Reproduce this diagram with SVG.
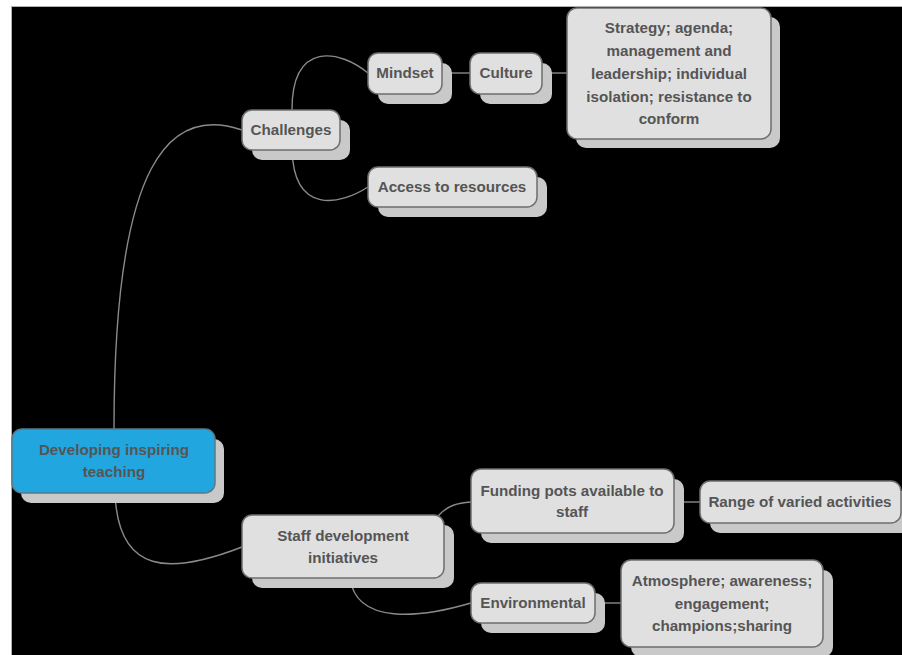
<svg xmlns="http://www.w3.org/2000/svg" width="902" height="655" viewBox="0 0 902 655">
<style>
.sh{fill:#c9c9c9}
.bx{fill:#e0e0e0;stroke:#6e6e6e;stroke-width:1.5}
.root{fill:#22a6df;stroke:#5a7a8a;stroke-width:1.5}
text{font-family:"Liberation Sans",Arial,sans-serif;font-weight:bold;font-size:15.2px;fill:#555555;text-anchor:middle}
.cn{fill:none;stroke:#8a8a8a;stroke-width:1.4}
</style>
<rect x="0" y="0" width="902" height="655" fill="#ffffff"/>
<rect x="11.5" y="6.5" width="891" height="649" fill="#000000" stroke="#b0b0b0" stroke-width="1"/>
<g id="connectors">
<path class="cn" d="M114,429 C114,160 170,105 242,130"/>
<path class="cn" d="M115,493 C118,575 170,575 242,547"/>
<path class="cn" d="M292,110 C292,40 340,50 368,73"/>
<path class="cn" d="M292,150 C294,215 340,205 368,187"/>
<path class="cn" d="M442,73 L470,73"/>
<path class="cn" d="M542,73 L567,73"/>
<path class="cn" d="M438,516 C448,505 458,503 471,502"/>
<path class="cn" d="M350,578 C356,625 420,618 471,603"/>
<path class="cn" d="M674,502 L700,502"/>
<path class="cn" d="M595,603 L621,603"/>
</g>
<g id="root">
<rect class="sh" x="21" y="439" width="203" height="64" rx="10"/>
<rect class="root" x="12" y="429" width="203" height="64" rx="10"/>
<text x="114" y="455">Developing inspiring</text>
<text x="114" y="477">teaching</text>
</g>
<g id="challenges">
<rect class="sh" x="252" y="120" width="98" height="40" rx="10"/>
<rect class="bx" x="242" y="110" width="98" height="40" rx="10"/>
<text x="291" y="135">Challenges</text>
</g>
<g id="mindset">
<rect class="sh" x="378" y="63" width="74" height="41" rx="10"/>
<rect class="bx" x="368" y="53" width="74" height="41" rx="10"/>
<text x="405" y="78">Mindset</text>
</g>
<g id="culture">
<rect class="sh" x="480" y="63" width="72" height="41" rx="10"/>
<rect class="bx" x="470" y="53" width="72" height="41" rx="10"/>
<text x="506" y="78">Culture</text>
</g>
<g id="strategy">
<rect class="sh" x="576" y="17" width="204" height="131" rx="10"/>
<rect class="bx" x="567" y="8" width="204" height="131" rx="10"/>
<text x="669" y="33">Strategy; agenda;</text>
<text x="669" y="56">management and</text>
<text x="669" y="79">leadership; individual</text>
<text x="669" y="102">isolation; resistance to</text>
<text x="669" y="124">conform</text>
</g>
<g id="access">
<rect class="sh" x="378" y="177" width="169" height="40" rx="10"/>
<rect class="bx" x="368" y="167" width="169" height="40" rx="10"/>
<text x="452" y="192">Access to resources</text>
</g>
<g id="staff">
<rect class="sh" x="252" y="525" width="202" height="63" rx="10"/>
<rect class="bx" x="242" y="515" width="202" height="63" rx="10"/>
<text x="343" y="541">Staff development</text>
<text x="343" y="563">initiatives</text>
</g>
<g id="funding">
<rect class="sh" x="481" y="479" width="203" height="64" rx="10"/>
<rect class="bx" x="471" y="469" width="203" height="64" rx="10"/>
<text x="572" y="496">Funding pots available to</text>
<text x="572" y="517">staff</text>
</g>
<g id="range">
<rect class="sh" x="710" y="491" width="201" height="42" rx="10"/>
<rect class="bx" x="700" y="481" width="201" height="42" rx="10"/>
<text x="800" y="507">Range of varied activities</text>
</g>
<g id="environmental">
<rect class="sh" x="481" y="593" width="124" height="40" rx="10"/>
<rect class="bx" x="471" y="583" width="124" height="40" rx="10"/>
<text x="533" y="608">Environmental</text>
</g>
<g id="atmosphere">
<rect class="sh" x="631" y="570" width="202" height="87" rx="10"/>
<rect class="bx" x="621" y="560" width="202" height="87" rx="10"/>
<text x="722" y="586">Atmosphere; awareness;</text>
<text x="722" y="609">engagement;</text>
<text x="722" y="631">champions;sharing</text>
</g>
</svg>
